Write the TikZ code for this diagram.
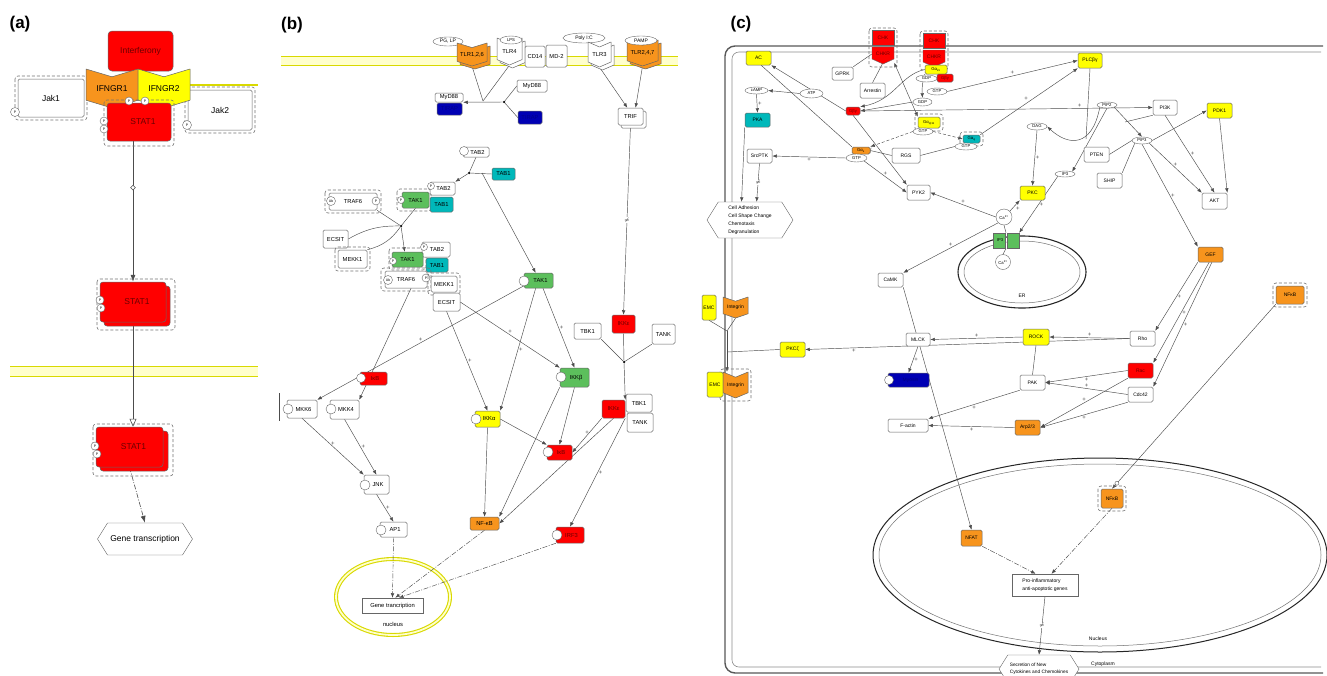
\documentclass[tikz,border=0pt]{standalone}
\usepackage{fontspec}
\setmainfont{Liberation Sans}
\usetikzlibrary{arrows.meta,shapes.geometric,shapes.symbols,calc}
\pgfdeclarelayer{back}
\pgfdeclarelayer{bg}
\pgfsetlayers{back,bg,main}
\definecolor{cred}{HTML}{FF0000}
\definecolor{corange}{HTML}{F7941D}
\definecolor{cyellow}{HTML}{FFFF00}
\definecolor{cgreen}{HTML}{5CBF5C}
\definecolor{ccyan}{HTML}{00B8BA}
\definecolor{cblue}{HTML}{0000B4}
\definecolor{memfill}{HTML}{FFFFCC}
\definecolor{memline}{HTML}{D9D900}
\definecolor{dred}{HTML}{6A0000}
\newcommand{\fsa}{\fontsize{8.5}{10}\selectfont}
\newcommand{\fsb}{\fontsize{5.8}{7}\selectfont}
\newcommand{\fsc}{\fontsize{5}{6.2}\selectfont}
\newcommand{\fse}{\fontsize{4.2}{5}\selectfont}
\tikzset{
 bx/.style={draw=black!60, rounded corners=1.5pt, inner sep=0.5pt, align=center, fill=white, line width=0.5pt},
 ell/.style={ellipse, draw=black!60, inner sep=0pt, fill=white, line width=0.4pt, font=\fse},
 arr/.style={draw=black!70, line width=0.45pt, -{Latex[length=4.5pt,width=3.5pt]}},
 arrbig/.style={draw=black!70, line width=0.6pt, -{Latex[length=7pt,width=5pt]}},
 oarr/.style={draw=black!70, line width=0.6pt, -{Triangle[open,length=8pt,width=7pt]}},
 ln/.style={draw=black!70, line width=0.45pt},
 darr/.style={arr, dash pattern=on 5pt off 1.5pt on 1pt off 1.5pt},
 darrbig/.style={arrbig, dash pattern=on 5pt off 1.5pt on 1pt off 1.5pt},
 dsh/.style={arr, dash pattern=on 3pt off 2pt},
 biarr/.style={draw=black!70, line width=0.45pt, {Latex[length=4.5pt,width=3.5pt]}-{Latex[length=4.5pt,width=3.5pt]}},
 inh/.style={draw=black!70, line width=0.45pt, -{Bar[width=6pt]}},
 dout/.style={draw=black!55, densely dashed, rounded corners=3pt, line width=0.6pt},
 dotn/.style={circle, fill=black, inner sep=0pt, minimum size=2.5pt},
 pl/.style={font=\fontsize{6}{6}\selectfont, inner sep=1pt, text=black!70},
 mkn/.style={font=\fsc, inner sep=0.3pt, fill=white},
 mkd/.style={diamond, draw=black!70, fill=white, inner sep=0pt, minimum size=5pt},
 hexn/.style={signal, signal to=west and east, signal pointer angle=116, draw=black!60, fill=white, inner sep=1pt},
 pcs/.style={circle, draw=black!60, fill=white, inner sep=0pt, font=\fontsize{3.5}{4}\selectfont},
 ocs/.style={circle, draw=black!60, fill=white, inner sep=0pt},
 mem/.style={draw=memline, line width=0.8pt},
 bkr/.style={draw=black!60, rounded corners=3pt, line width=0.5pt},
 rd/.style={fill=cred, text=dred},
}
\newcommand{\bxn}[7][]{\node[bx,minimum width={(#5)-(#3)},minimum height={(#6)-(#4)},#1] (#2) at ({((#3)+(#5))/2},{((#4)+(#6))/2}) {#7};}
\newcommand{\eln}[7][]{\node[ell,minimum width={(#5)-(#3)},minimum height={(#6)-(#4)},#1] (#2) at ({((#3)+(#5))/2},{((#4)+(#6))/2}) {#7};}
\newcommand{\rcp}[7]{%
 \draw[draw=black!60,fill=#6,line join=round,line width=0.5pt] (#2,#3) -- ({((#2)+(#4))/2},{(#3)+0.2*((#5)-(#3))}) -- (#4,#3) -- (#4,{(#5)-0.2*((#5)-(#3))}) -- ({((#2)+(#4))/2},#5) -- (#2,{(#5)-0.2*((#5)-(#3))}) -- cycle;
 \node[inner sep=0pt,minimum width={(#4)-(#2)},minimum height={(#5)-(#3)}] (#1) at ({((#2)+(#4))/2},{((#3)+(#5))/2}) {#7};}
\newcommand{\pcir}[3]{\node[pcs,minimum size=#3] (pc#1x#2) at (#1,#2) {P};}
\newcommand{\ocir}[3]{\node[ocs,minimum size=#3] (oc#1x#2) at (#1,#2) {};}
\newcommand{\dbox}[4]{\draw[dout] (#1,#2) rectangle (#3,#4);}
\newcommand{\chkn}[3]{%
 \draw[dout] ({#2-3},{#3-2}) rectangle ({#2+25},{#3+37});
 \draw[draw=black!60,fill=cred] (#2,#3) rectangle ({#2+22},{#3+15});
 \draw[draw=black!60,fill=cred] (#2,{#3+17}) -- ({#2+22},{#3+17}) -- ({#2+22},{#3+29}) -- ({#2+11},{#3+34}) -- (#2,{#3+29}) -- cycle;
 \node[inner sep=0pt,font=\fsc,text=dred,minimum width=22,minimum height=15] (#1) at ({#2+11},{#3+7.5}) {CHK};
 \node[inner sep=0pt,font=\fsc,text=dred,minimum width=22,minimum height=17] (#1r) at ({#2+11},{#3+24}) {CHKR};}
\begin{document}
\begin{tikzpicture}[x=1pt,y=-1pt]
\useasboundingbox (0,0) rectangle (1327,675);
\begin{pgfonlayer}{back}
\fill[white] (0,0) rectangle (1327,675);
% (a) membranes
\fill[memfill] (10,366) rectangle (258,376);
\draw[mem] (10,366) -- (258,366) (10,376) -- (258,376);
\draw[memline,line width=1.3pt] (190,85) -- (258,85);
% (b) membrane and nucleus
\fill[memfill] (281,56) rectangle (678,65);
\draw[mem] (281,56) -- (678,56) (281,65) -- (678,65);
\draw[memline,line width=4pt] (393,597) ellipse [x radius=57,y radius=38];
\draw[memfill,line width=1.8pt] (393,597) ellipse [x radius=57,y radius=38];
% (c) cell, nucleus, ER
\draw[black!65,line width=1.4pt,rounded corners=10pt] (1323,46) -- (725,46) -- (725,673) -- (1323,673);
\draw[black!45,line width=0.6pt,rounded corners=7pt] (1321,52) -- (732,52) -- (732,667) -- (1321,667);
\draw[black!85,line width=1pt] (1100,555) ellipse [x radius=227,y radius=97];
\draw[black!55,line width=0.5pt] (1100,555) ellipse [x radius=221,y radius=91];
\draw[black!85,line width=1.1pt] (1022,272) ellipse [x radius=64,y radius=36];
\draw[black!55,line width=0.5pt] (1022,272) ellipse [x radius=58,y radius=31];
\end{pgfonlayer}
\clip (0,0) rectangle (1327,675);
%%%%%%%%%%%%%%%% (a)
\begin{scope}[font=\fsa]
\node[font=\fontsize{17}{19}\selectfont\bfseries] (lbla) at (20,24) {(a)};
\dbox{15}{76}{87}{120}
\bxn{jak1}{18}{79}{84}{117}{Jak1}
\pcir{15}{112}{9}
\dbox{185}{87}{255}{133}
\bxn{jak2}{188}{90}{252}{130}{Jak2}
\pcir{187}{125}{9}
\bxn[rd,rounded corners=4pt]{ifn}{108}{31}{173}{71}{Interferony}
\rcp{ifngr1}{86}{69}{138}{108}{corange}{IFNGR1}
\rcp{ifngr2}{138}{69}{190}{108}{cyellow}{IFNGR2}
\dbox{104}{100}{174}{146}
\bxn[rd,rounded corners=3pt]{stata}{107}{103}{171}{141}{\hspace*{8pt}STAT1}
\pcir{129}{101}{8}
\pcir{145}{101}{8}
\pcir{104}{121}{8}
\pcir{104}{129}{8}
\dbox{97}{279}{175}{330}
\draw[bkr,fill=cred] (104,286) rectangle (170,326);
\bxn[rd,rounded corners=3pt]{statb}{100}{282}{166}{322}{\hspace*{8pt}STAT1}
\pcir{100}{300}{8}
\pcir{101}{308}{8}
\dbox{93}{424}{173}{476}
\draw[bkr,fill=cred] (100,431) rectangle (168,471);
\bxn[rd,rounded corners=3pt]{statc}{96}{427}{163}{467}{\hspace*{8pt}STAT1}
\pcir{95}{446}{8}
\pcir{97}{454}{8}
\node[hexn,minimum width=95,minimum height=32] (gta) at (145,539) {Gene transcription};
\end{scope}
%%%%%%%%%%%%%%%% (b)
\begin{scope}[font=\fsb]
\node[font=\fontsize{17}{19}\selectfont\bfseries] (lblb) at (292,25) {(b)};
\eln[font=\fsc]{pglp}{433}{37}{463}{46}{PG, LP}
\rcp{tlr126b}{460}{46}{490}{69}{corange}{}
\rcp{tlr126}{457}{43}{487}{66}{corange}{TLR1,2,6}
\rcp{tlr4b}{500}{41}{525}{68}{white}{}
\rcp{tlr4}{497}{38}{522}{65}{white}{TLR4}
\eln{lps}{500}{36}{522}{44}{LPS}
\bxn{cd14}{525}{46}{545}{67}{CD14}
\bxn{md2}{546}{45}{567}{67}{MD-2}
\eln[font=\fsc]{polyic}{563}{33}{605}{43}{Poly I:C}
\rcp{tlr3b}{591}{45}{614}{70}{white}{}
\rcp{tlr3}{588}{42}{611}{67}{white}{TLR3}
\rcp{tlr247b}{630}{43}{661}{69}{corange}{}
\rcp{tlr247}{627}{40}{658}{66}{corange}{TLR2,4,7}
\eln[font=\fsc]{pamp}{625}{36}{657}{45}{PAMP}
\bxn{myd1}{435}{93}{463}{102}{MyD88}
\bxn[fill=cblue,text=blue!55!black]{tirap1}{437}{103}{462}{115}{TIRAP}
\bxn{myd2}{517}{80}{547}{92}{MyD88}
\bxn[fill=cblue,text=blue!55!black]{tirap2}{518}{111}{542}{124}{TIRAP}
\coordinate (jb1) at (483,101);
\node[dotn] (jb2) at (504,102) {};
\draw[bkr,fill=white,rounded corners=1.5pt] (621,111) rectangle (646,128);
\bxn{trif}{618}{108}{643}{125}{TRIF}
\bxn{tab2a}{463}{147}{489}{157}{\hspace*{3pt}TAB2}
\ocir{464}{151}{9}
\bxn[fill=ccyan]{tab1a}{492}{168}{515}{180}{TAB1}
\node[dotn] (jb3) at (469,173) {};
\coordinate (jb3b) at (482,173);
\dbox{397}{189}{431}{211}
\bxn{tab2b}{430}{182}{455}{195}{\hspace*{2pt}TAB2}
\pcir{431}{186}{7}
\bxn[fill=cgreen]{tak1b}{402}{192}{429}{208}{TAK1}
\pcir{401}{200}{7}
\bxn[fill=ccyan]{tab1b}{430}{197}{453}{212}{TAB1}
\dbox{325}{190}{381}{213}
\bxn{traf6a}{329}{193}{377}{210}{TRAF6}
\node[pcs,minimum size=9] (uba) at (331,201) {Ub};
\pcir{376}{201}{8}
\bxn{ecsita}{323}{230}{348}{248}{ECSIT}
\dbox{335}{247}{370}{271}
\bxn{mekk1a}{338}{250}{367}{268}{MEKK1}
\node[dotn] (jb4) at (401,226) {};
\dbox{389}{248}{426}{270}
\bxn{tab2c}{422}{242}{450}{257}{\hspace*{2pt}TAB2}
\pcir{424}{247}{7}
\bxn[fill=cgreen]{tak1c}{392}{252}{423}{267}{TAK1}
\pcir{393}{261}{7}
\bxn[fill=ccyan]{tab1c}{426}{258}{448}{272}{TAB1}
\dbox{381}{268}{431}{291}
\bxn{traf6c}{385}{271}{427}{288}{TRAF6}
\node[pcs,minimum size=9] (ubc) at (388,280) {Ub};
\pcir{426}{278}{8}
\dbox{428}{273}{460}{295}
\bxn{mekk1c}{431}{276}{457}{292}{MEKK1}
\bxn{ecsitc}{433}{293}{460}{311}{ECSIT}
\bxn[fill=cgreen]{tak1r}{524}{273}{553}{288}{\hspace*{4pt}TAK1}
\ocir{524}{281}{10}
\bxn[rd]{ikba}{360}{372}{387}{385}{\hspace*{3pt}IκB}
\ocir{361}{378}{9}
\draw[ln] (279,393) -- (279,421);
\bxn{mkk6}{287}{400}{317}{418}{\hspace*{3pt}MKK6}
\ocir{288}{409}{10}
\bxn{mkk4}{330}{400}{359}{419}{\hspace*{3pt}MKK4}
\ocir{331}{409}{10}
\bxn[fill=cyellow]{ikka}{475}{411}{500}{427}{\hspace*{3pt}IKKα}
\ocir{476}{419}{10}
\bxn[fill=cgreen]{ikkb}{560}{368}{589}{387}{\hspace*{3pt}IKKβ}
\ocir{561}{377}{10}
\bxn[rd]{ikke1}{612}{315}{635}{333}{IKKε}
\bxn{tbk1a}{574}{323}{601}{339}{TBK1}
\bxn{tanka}{652}{324}{675}{344}{TANK}
\node[dotn] (jb5) at (624,362) {};
\bxn[rd]{ikke2}{602}{400}{625}{418}{IKKε}
\bxn{tbk1b}{626}{394}{652}{412}{TBK1}
\bxn{tankb}{627}{413}{653}{432}{TANK}
\bxn[rd]{ikbb}{547}{445}{572}{460}{\hspace*{3pt}IκB}
\ocir{548}{452}{10}
\bxn{jnk}{364}{475}{389}{494}{\hspace*{3pt}JNK}
\ocir{365}{485}{10}
\bxn{ap1}{380}{522}{407}{537}{\hspace*{3pt}AP1}
\ocir{381}{530}{10}
\bxn[fill=corange]{nfkb}{470}{517}{499}{530}{NF-κB}
\bxn[rd]{irf3}{556}{527}{584}{543}{\hspace*{3pt}IRF3}
\ocir{557}{535}{10}
\bxn[rounded corners=0pt]{genb}{362}{598}{423}{613}{Gene trancription}
\node (nucl) at (393,624) {nucleus};
\end{scope}
%%%%%%%%%%%%%%%% (c)
\begin{scope}[font=\fsc]
\node[font=\fontsize{17}{19}\selectfont\bfseries] (lblc) at (741,24) {(c)};
\node (erl) at (1022,296) {ER};
\node (nuclc) at (1098,639) {Nucleus};
\node (cytl) at (1103,664) {Cytoplasm};
\bxn[fill=cyellow]{ac}{746}{51}{771}{65}{AC}
\chkn{chka}{872}{30}
\chkn{chkb}{923}{33}
\bxn{gprk}{832}{67}{853}{80}{GPRK}
\bxn{arrestin}{860}{83}{885}{98}{Arrestin}
\eln{gdp1}{916}{75}{937}{82}{GDP}
\bxn[fill=cyellow,font=\fse]{gio}{925}{65}{947}{74}{Gα\textsubscript{i/o}}
\bxn[rd,font=\fse]{gbg2}{937}{74}{953}{82}{Gβγ}
\eln{gtp1}{927}{88}{947}{95}{GTP}
\eln{gdp2}{913}{98}{932}{106}{GDP}
\eln{camp}{745}{87}{768}{94}{cAMP}
\eln{atp}{800}{89}{823}{98}{ATP}
\bxn[fill=ccyan]{pka}{745}{113}{770}{127}{PKA}
\bxn[rd,font=\fse]{gbg}{846}{107}{860}{115}{Gβγ}
\dbox{915}{114}{943}{131}
\bxn[fill=cyellow,font=\fse]{gaq11}{918}{117}{940}{128}{Gα\textsubscript{q/11}}
\eln{gtp2}{913}{128}{933}{135}{GTP}
\dbox{960}{132}{983}{146}
\bxn[fill=ccyan,font=\fse]{gaq}{963}{135}{980}{143}{Gα\textsubscript{q}}
\eln{gtpq}{955}{143}{977}{150}{GTP}
\bxn[fill=corange,font=\fse]{gas}{852}{147}{870}{154}{Gα\textsubscript{s}}
\eln{gtps}{846}{154}{867}{162}{GTP}
\bxn{rgs}{892}{148}{920}{163}{RGS}
\bxn{srcptk}{747}{149}{772}{163}{SrcPTK}
\bxn{pyk2}{907}{185}{930}{200}{PYK2}
\node[hexn,minimum width=86,minimum height=36,align=left,font=\fontsize{5}{8}\selectfont] (celladh) at (750,220) {Cell Adhesion\\Cell Shape Change\\Chemotaxis\\Degranulation};
\draw[draw=black!60,fill=cgreen] (993,233) rectangle (1005,248);
\draw[draw=black!60,fill=cgreen] (1007,233) rectangle (1019,248);
\node[inner sep=0pt,minimum width=26,minimum height=15,font=\fse] (ip3r) at (1006,240.5) {IP3\hspace*{12pt}};
\node[circle,draw=black!60,fill=white,inner sep=0pt,minimum size=16,font=\fse] (ca1) at (1004,217) {Ca\textsuperscript{2+}};
\node[circle,draw=black!60,fill=white,inner sep=0pt,minimum size=15,font=\fse] (ca2) at (1003,262) {Ca\textsuperscript{2+}};
\bxn[fill=cyellow]{pkc}{1020}{186}{1045}{200}{PKC}
\eln{dag}{1027}{123}{1047}{130}{DAG}
\eln{ip3}{1055}{171}{1075}{177}{IP3}
\bxn{camk}{878}{273}{903}{287}{CaMK}
\bxn[fill=cyellow]{plcb}{1078}{53}{1102}{68}{PLCβγ}
\eln{pip2}{1097}{102}{1117}{108}{PIP2}
\bxn{pi3k}{1153}{100}{1177}{115}{PI3K}
\bxn[fill=cyellow]{pdk1}{1207}{103}{1232}{118}{PDK1}
\eln{pip3}{1132}{137}{1152}{144}{PIP3}
\bxn{pten}{1084}{147}{1109}{162}{PTEN}
\bxn{ship}{1097}{173}{1122}{188}{SHIP}
\bxn{akt}{1202}{193}{1227}{209}{AKT}
\bxn[fill=corange]{gef}{1198}{247}{1223}{262}{GEF}
\dbox{1273}{283}{1307}{307}
\bxn[fill=corange]{nfkba}{1276}{286}{1304}{304}{NFκB}
\bxn[fill=cyellow]{rock}{1023}{329}{1049}{345}{ROCK}
\bxn{rho}{1130}{331}{1155}{346}{Rho}
\bxn[rd]{rac}{1128}{363}{1153}{378}{Rac}
\bxn{cdc42}{1128}{387}{1153}{402}{Cdc42}
\bxn{pak}{1020}{375}{1045}{390}{PAK}
\bxn[fill=corange]{arp}{1015}{420}{1040}{435}{Arp2/3}
\bxn[fill=cyellow]{pkcz}{780}{342}{805}{357}{PKCζ}
\bxn[fill=cyellow]{emc1}{702}{295}{716}{320}{EMC}
\rcp{int1}{723}{297}{748}{318}{corange}{Integrin}
\dbox{720}{369}{751}{401}
\bxn[fill=cyellow]{emc2}{707}{372}{723}{397}{EMC}
\rcp{int2}{723}{372}{748}{398}{corange}{Integrin}
\bxn{mlck}{906}{333}{930}{346}{MLCK}
\bxn[fill=cblue,text=blue!50!black]{myosin}{888}{373}{929}{387}{\hspace*{4pt}Myosin}
\ocir{889}{380}{9}
\bxn{factin}{888}{419}{928}{432}{F-actin}
\bxn[fill=corange]{nfat}{961}{530}{982}{546}{NFAT}
\dbox{1098}{486}{1126}{511}
\bxn[fill=corange]{nfkbb}{1101}{489}{1123}{508}{NFκB}
\bxn[rounded corners=0pt,align=left,font=\fontsize{5}{8}\selectfont]{pro}{1012}{574}{1078}{596}{Pro-inflammatory\\anti-apoptotic genes}
\node[hexn,minimum width=80,minimum height=28,align=left,font=\fontsize{4.8}{7}\selectfont] (secr) at (1039,669) {Secretion of New\\Cytokines and Chemokines};
\coordinate (jplc) at (1086,139);
\coordinate (jpi) at (1125,122);
\coordinate (jint) at (727,331);
\coordinate (jint2) at (727,352);
\end{scope}
%%%%%%%%%%%%%%%% connectors
\begin{pgfonlayer}{bg}
% (a)
\draw[arrbig] (stata.south -| statb.north) -- node[mkd,pos=0.33] (mka) {} (statb.north);
\draw[oarr] (statb.south) -- (statb.south |- statc.north);
\draw[darrbig] (statc.south) -- (gta.north);
% (b)
\draw[ln] (tlr126.south) -- (jb1);
\draw[ln] (tlr4.south) -- (jb1);
\draw[ln] (myd2.west) -- (jb2);
\draw[ln] (tirap2.west) -- (jb2);
\draw[arr] (jb2) -- (myd1.south east);
\draw[arr] (tlr3.south) -- (trif.110);
\draw[arr] (tlr247.south) -- (trif.60);
\draw[arr] (trif.south) -- node[mkn,pos=0.5] (mkb1) {$\neq$} (ikke1.north);
\draw[ln] (tbk1a.south east) -- (jb5);
\draw[ln] (ikke1.south) -- (jb5);
\draw[ln] (tanka.south west) -- (jb5);
\draw[arr] (jb5) -- (ikke2.north east);
\draw[ln] (tab2a.south) -- (jb3);
\draw[ln] (tab1a.west) -- (jb3);
\draw[arr] (jb3) -- (tab2b.north east);
\draw[arr] (jb3b) -- (tak1r.110);
\draw[ln] (traf6a.-20) -- (jb4);
\draw[ln] (ecsita.east) to[bend left=15] (jb4);
\draw[ln] (mekk1a.north east) to[bend right=20] (jb4);
\draw[ln] (tak1b.south) -- (jb4);
\draw[arr] (jb4) -- (tak1c.110);
\draw[arr] (traf6c.-60) -- (mkk4.north east);
\draw[arr] (tak1r.200) -- node[pl,above] (q1) {+} (mkk6.north east);
\draw[arr] (tak1r.-110) -- node[pl,right] (q2) {+} (ikka.north east);
\draw[arr] (tak1r.-60) -- node[pl,right] (q3) {+} (ikkb.north);
\draw[arr] (ecsitc.south) -- node[pl,right] (q4) {+} (ikka.north);
\draw[arr] (ecsitc.east) -- node[pl,above] (q5) {+} (ikkb.north west);
\draw[arr] (mkk6.south) -- node[pl,above] (q6) {+} (jnk.north west);
\draw[arr] (mkk4.south) -- node[pl,right] (q7) {+} (jnk.north);
\draw[arr] (jnk.south) -- node[pl,right] (q8) {+} (ap1.north);
\draw[darr] (ap1.south) -- (genb.north);
\draw[darr] (nfkb.south) -- (genb.70);
\draw[darr] (irf3.south west) -- (genb.50);
\draw[arr] (ikka.south) -- (nfkb.north);
\draw[arr] (ikka.east) -- (ikbb.north west);
\draw[arr] (ikkb.south) -- (ikbb.north);
\draw[arr] (ikkb.south west) -- (nfkb.north east);
\draw[arr] (ikke2.south west) -- node[pl,above] (q9) {+} (ikbb.east);
\draw[arr] (ikke2.south) -- (nfkb.east);
\draw[arr] (ikke2.south east) -- node[pl,right] (q10) {+} (irf3.north);
% (c)
\draw[arr] (atp.west) -- (camp.east);
\draw[arr] (camp.south) -- node[pl,right] (q11) {+} (pka.north);
\draw[arr] (gbg.west) -- node[pl,above,pos=0.35] (q12) {+} (ac.south east);
\draw[ln] (gas.north west) -- (ac.-70);
\draw[arr] (gio.west) .. controls (900,75) and (895,100) .. (gbg.north east);
\draw[arr] (gdp2.west) -- (gbg.east);
\draw[arr] (gbg.south) -- (pyk2.north west);
\draw[arr] (gbg.east) -- node[pl,above,pos=0.75] (q13) {+} (pi3k.west);
\draw[arr] (gtp1.east) -- node[pl,above] (q14) {+} (plcb.west);
\draw[arr] (gaq.north east) -- node[pl,above left] (q15) {+} (plcb.south west);
\draw[dsh] (gtp2.west) -- (gas.north east);
\draw[dsh] (gtp2.east) -- (gaq.west);
\draw[inh] (rgs.west) -- (gas.east);
\draw[ln] (gtpq.west) -- (rgs.east);
\draw[arr] (gtps.west) -- node[pl,below] (q16) {+} (srcptk.east);
\draw[arr] (gtps.south east) -- node[pl,above] (q17) {+} (pyk2.west);
\draw[biarr] (chkar.south east) -- (gaq11.north west);
\draw[ln] (gprk.north east) -- (chkar.west);
\draw[ln] (arrestin.north) -- (chkar.south);
\draw[arr] (gio.south west) to[bend right=10] (gdp2.north);
\draw[arr] (pka.south west) -- (celladh.115);
\draw[arr] (srcptk.south) -- node[mkn] (mkc1) {$\neq$} (celladh.70);
\draw[arr] (ca1.west) -- node[pl,above] (q18) {+} (pyk2.east);
\draw[arr] (ca1.north east) -- node[pl,below right] (q19) {+} (pkc.south west);
\draw[arr] (ca1.south west) -- node[pl,above] (q20) {+} (camk.north east);
\draw[arr] (ip3.south west) -- node[pl,right] (q21) {+} (ip3r.north east);
\draw[arr] (dag.south) -- node[pl,right] (q22) {+} (pkc.north);
\draw[ln] (ca2.north) -- (ip3r.south);
\draw[ln] (ip3r.north) -- (ca1.south);
\draw[ln] (plcb.south) -- (jplc);
\draw[arr] (pip2.south west) .. controls (1092,148) and (1068,146) .. (dag.east);
\draw[arr] (pip2.south) -- (ip3.north east);
\draw[arr] (pip2.south east) -- (pip3.north);
\draw[ln] (pi3k.south west) -- (jpi);
\draw[ln] (pten.east) -- (pip3.west);
\draw[ln] (ship.north east) -- (pip3.south west);
\draw[arr] (pip3.east) -- (pdk1.west);
\draw[arr] (pip3.south east) -- node[pl,above] (q23) {+} (akt.north west);
\draw[arr] (pi3k.south) -- node[pl,right] (q24) {+} (akt.north);
\draw[arr] (pdk1.south) -- (akt.north east);
\draw[arr] (pip3.south) -- node[pl,right] (q25) {+} (gef.north west);
\draw[arr] (gef.south west) -- node[pl,right] (q26) {+} (rho.north east);
\draw[arr] (gef.-100) -- node[pl,right] (q27) {+} (rac.north east);
\draw[arr] (gef.-80) -- node[pl,right] (q28) {+} (cdc42.north east);
\draw[arr] (rho.west) -- node[pl,above] (q29) {+} (rock.east);
\draw[arr] (rho.west) -- node[pl,below,pos=0.85] (q30) {+} (pkcz.east);
\draw[arr] (rock.west) -- node[pl,above] (q31) {+} (mlck.east);
\draw[arr] (mlck.south) -- node[pl,right] (q32) {+} (myosin.north);
\draw[arr] (camk.south east) -- (nfat.north);
\draw[ln] (rock.south) -- (pak.north);
\draw[arr] (rac.west) -- node[pl,below] (q33) {+} (pak.east);
\draw[arr] (cdc42.west) -- node[pl,above] (q34) {+} (pak.east);
\draw[arr] (rac.south west) -- node[pl,above] (q35) {+} (arp.east);
\draw[arr] (cdc42.south west) -- node[pl,below] (q36) {+} (arp.east);
\draw[arr] (pak.south west) -- node[pl,below] (q37) {+} (factin.north east);
\draw[arr] (arp.west) -- node[pl,below] (q38) {+} (factin.east);
\draw[arr] (nfkba.south west) -- node[ocs,minimum size=4,pos=0.97] (mkc2) {} (nfkbb.north);
\draw[darr] (nfkbb.south) -- (pro.60);
\draw[darr] (nfat.south east) -- (pro.130);
\draw[arr] (pro.south) -- node[mkn] (mkc3) {$\neq$} (secr.north);
\draw[ln] (emc1.south) -- (jint);
\draw[ln] (int1.south) -- (jint);
\draw[arr] (jint) -- (jint |- int2.north);
\draw[ln] (pkcz.west) -- (jint2);
\end{pgfonlayer}
\end{tikzpicture}
\end{document}
